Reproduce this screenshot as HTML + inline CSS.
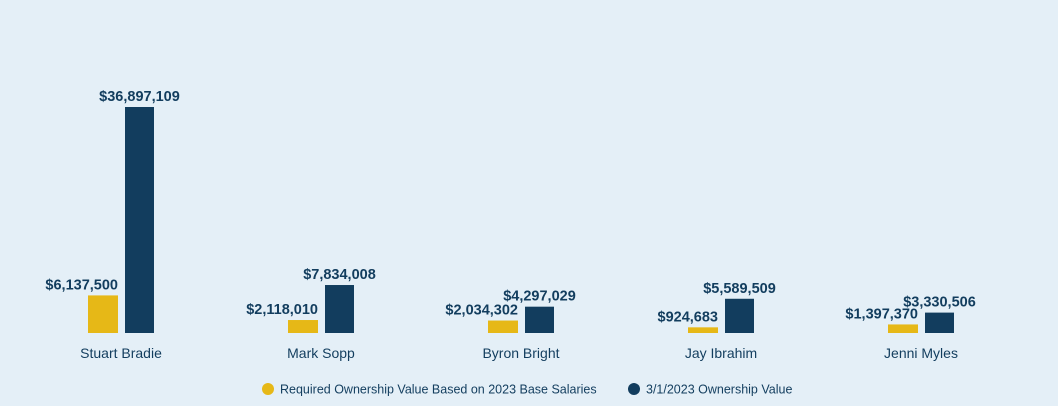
<!DOCTYPE html>
<html><head><meta charset="utf-8"><style>
html,body{margin:0;padding:0;background:#e4eff7;}
svg{display:block;font-family:"Liberation Sans",sans-serif;}
</style></head><body>
<svg width="1058" height="406" id="c">
<rect width="1058" height="406" fill="#e4eff7"/>
<g id="bars"></g>
<g>
<circle cx="268" cy="389" r="6" fill="#e6b817"/>
<text x="280" y="393.5" font-size="12.5" fill="#123d5e">Required Ownership Value Based on 2023 Base Salaries</text>
<circle cx="634" cy="389" r="6" fill="#123d5e"/>
<text x="646" y="393.5" font-size="12.5" fill="#123d5e">3/1/2023 Ownership Value</text>
</g>
</svg>
<script>
const categories=["Stuart Bradie","Mark Sopp","Byron Bright","Jay Ibrahim","Jenni Myles"];
const required=[6137500,2118010,2034302,924683,1397370];
const ownership=[36897109,7834008,4297029,5589509,3330506];
const NS="http://www.w3.org/2000/svg";
const base=333, scale=226/36897109;
const y=v=>base-v*scale;
const cx=i=>121+i*200;
const g=document.getElementById('bars');
const fmt=v=>'$'+v.toLocaleString('en-US');
function el(t,a){const e=document.createElementNS(NS,t);for(const k in a)e.setAttribute(k,a[k]);g.appendChild(e);return e;}
categories.forEach((c,i)=>{
  const x=cx(i);
  const r1=el('rect',{x:x-33,y:y(required[i]),width:30,height:base-y(required[i]),fill:'#e6b817'});
  
  
  const r2=el('rect',{x:x+4,y:y(ownership[i]),width:29,height:base-y(ownership[i]),fill:'#123d5e'});
  
  
  const t1=el('text',{x:x-3,y:y(required[i])-6,'text-anchor':'end','font-size':'14.5','font-weight':'bold',fill:'#123d5e'});
  t1.textContent=fmt(required[i]);
  
  
  const t2=el('text',{x:x+18.5,y:y(ownership[i])-6,'text-anchor':'middle','font-size':'14.5','font-weight':'bold',fill:'#123d5e'});
  t2.textContent=fmt(ownership[i]);
  
  
  const t3=el('text',{x:x,y:358,'text-anchor':'middle','font-size':'14',fill:'#123d5e'});
  t3.textContent=c;
  
  
});
</script>
</body></html>
